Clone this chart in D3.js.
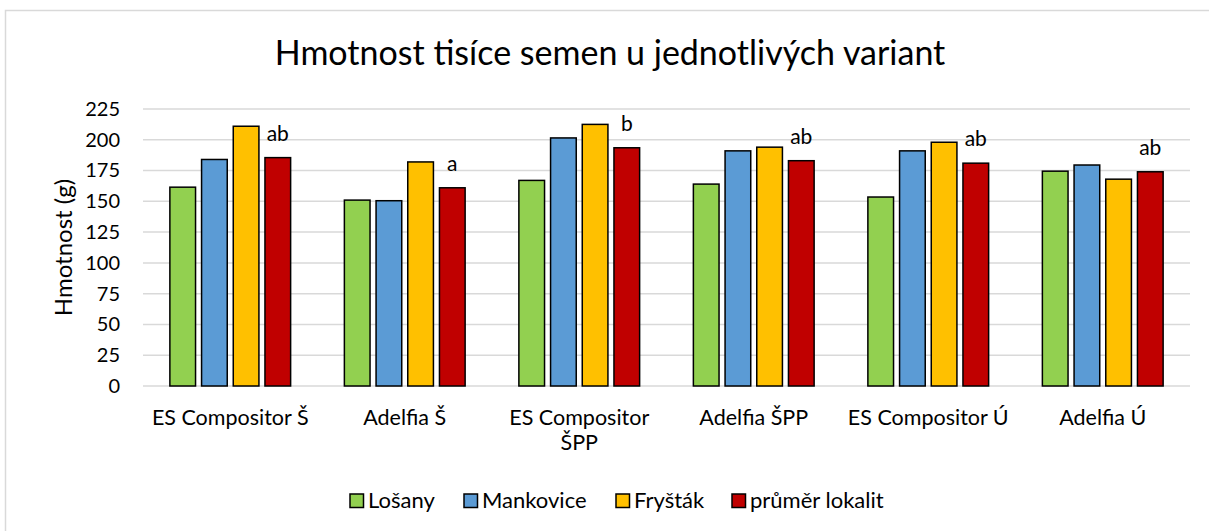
<!DOCTYPE html>
<html>
<head>
<meta charset="utf-8">
<script src="https://cdn.jsdelivr.net/npm/d3@7"></script>
<style>
  body { margin: 0; background: #ffffff; }
  svg { display: block; font-family: Lato, "Open Sans", sans-serif; }
</style>
</head>
<body>
<div id="chart"></div>
<script>
var categories = [
  ["ES Compositor Š"],
  ["Adelfia Š"],
  ["ES Compositor", "ŠPP"],
  ["Adelfia ŠPP"],
  ["ES Compositor Ú"],
  ["Adelfia Ú"]
];
var series = ["Lošany", "Mankovice", "Fryšták", "průměr lokalit"];
var series_colors = ["#92d050", "#5b9bd5", "#ffc000", "#c00000"];

var losany = [161.5, 151, 167, 164, 153.5, 174.5];
var mankovice = [184, 150.5, 201.5, 191, 191, 179.5];
var frystak = [211, 182, 212.5, 194, 198, 168];
var prumer = [185.5, 161, 193.5, 183, 181, 174];
var letters = ["ab", "a", "b", "ab", "ab", "ab"];

var y_ticks = [0, 25, 50, 75, 100, 125, 150, 175, 200, 225];

var width = 1209,
  height = 531;
var margins = { top: 109, right: 19, bottom: 145, left: 143 };

var svg = d3
  .select("#chart")
  .append("svg")
  .attr("width", width)
  .attr("height", height);

// chart area border
svg
  .append("rect")
  .attr("x", 5.5)
  .attr("y", 10.5)
  .attr("width", 1300)
  .attr("height", 600)
  .attr("fill", "#ffffff")
  .attr("stroke", "#d9d9d9")
  .attr("stroke-width", 1.5);

var cat_keys = categories.map((d) => d.join(" "));

var x0 = d3
  .scaleBand()
  .domain(cat_keys)
  .range([margins.left, width - margins.right])
  .paddingInner(0.308)
  .paddingOuter(0.154);

var x1 = d3
  .scaleBand()
  .domain(series)
  .range([0, x0.bandwidth()])
  .paddingInner(0.19);

var y = d3
  .scaleLinear()
  .domain([0, 225])
  .range([height - margins.bottom, margins.top]);

var color = d3.scaleOrdinal().domain(series).range(series_colors);

var values = [losany, mankovice, frystak, prumer];
var data = cat_keys.map((c, i) => ({
  cat: c,
  letter: letters[i],
  bars: series.map((s, j) => ({ series: s, value: values[j][i] }))
}));

// gridlines
svg
  .append("g")
  .selectAll("line")
  .data(y_ticks)
  .enter()
  .append("line")
  .attr("x1", margins.left)
  .attr("x2", width - margins.right)
  .attr("y1", (d) => y(d))
  .attr("y2", (d) => y(d))
  .attr("stroke", "#d9d9d9")
  .attr("stroke-width", 1.5);

// y axis labels
var y_axis = d3.axisLeft(y).tickValues(y_ticks).tickSize(0).tickPadding(23);
var y_g = svg
  .append("g")
  .attr("transform", "translate(" + margins.left + ",0)")
  .call(y_axis);
y_g.select(".domain").remove();
y_g
  .selectAll("text")
  .attr("font-family", "Lato, sans-serif")
  .attr("font-size", "20px")
  .attr("fill", "#000000");

svg
  .append("text")
  .attr("transform", "translate(72," + (y(225) + y(0)) / 2 + ") rotate(-90)")
  .attr("text-anchor", "middle")
  .attr("font-size", "24px")
  .attr("fill", "#000000")
  .text("Hmotnost (g)");

// bars
var groups = svg
  .append("g")
  .selectAll("g")
  .data(data)
  .enter()
  .append("g")
  .attr("transform", (d) => "translate(" + x0(d.cat) + ",0)");

groups
  .selectAll("rect")
  .data((d) => d.bars)
  .enter()
  .append("rect")
  .attr("x", (d) => x1(d.series))
  .attr("y", (d) => y(d.value))
  .attr("width", x1.bandwidth())
  .attr("height", (d) => y(0) - y(d.value))
  .attr("fill", (d) => color(d.series))
  .attr("stroke", "#000000")
  .attr("stroke-width", 1.5);

// letter labels above the average bar
groups
  .append("text")
  .attr("x", x1("průměr lokalit") + x1.bandwidth() / 2)
  .attr("y", (d) => y(d.bars[3].value) - 17)
  .attr("text-anchor", "middle")
  .attr("font-size", "21px")
  .attr("fill", "#000000")
  .text((d) => d.letter);

// category labels
var cat_labels = svg
  .append("g")
  .selectAll("text")
  .data(categories)
  .enter()
  .append("text")
  .attr("x", (d, i) => x0(cat_keys[i]) + x0.bandwidth() / 2)
  .attr("y", 425)
  .attr("text-anchor", "middle")
  .attr("font-size", "21.5px")
  .attr("fill", "#000000");

cat_labels
  .selectAll("tspan")
  .data((d) => d)
  .enter()
  .append("tspan")
  .attr("x", function () {
    return d3.select(this.parentNode).attr("x");
  })
  .attr("dy", (d, i) => (i === 0 ? 0 : 25))
  .text((d) => d);

// title
svg
  .append("text")
  .attr("x", 610)
  .attr("y", 65)
  .attr("text-anchor", "middle")
  .attr("font-size", "34px")
  .attr("fill", "#000000")
  .text("Hmotnost tisíce semen u jednotlivých variant");

// legend
var legend_x = [350, 464, 616, 732];
var legend = svg
  .append("g")
  .selectAll("g")
  .data(series)
  .enter()
  .append("g")
  .attr("transform", (d, i) => "translate(" + legend_x[i] + ",494)");

legend
  .append("rect")
  .attr("width", 13.5)
  .attr("height", 13.5)
  .attr("fill", (d) => color(d))
  .attr("stroke", "#000000")
  .attr("stroke-width", 1.5);

legend
  .append("text")
  .attr("x", 18)
  .attr("y", 14)
  .attr("font-size", "22px")
  .attr("fill", "#000000")
  .text((d) => d);
</script>
</body>
</html>
